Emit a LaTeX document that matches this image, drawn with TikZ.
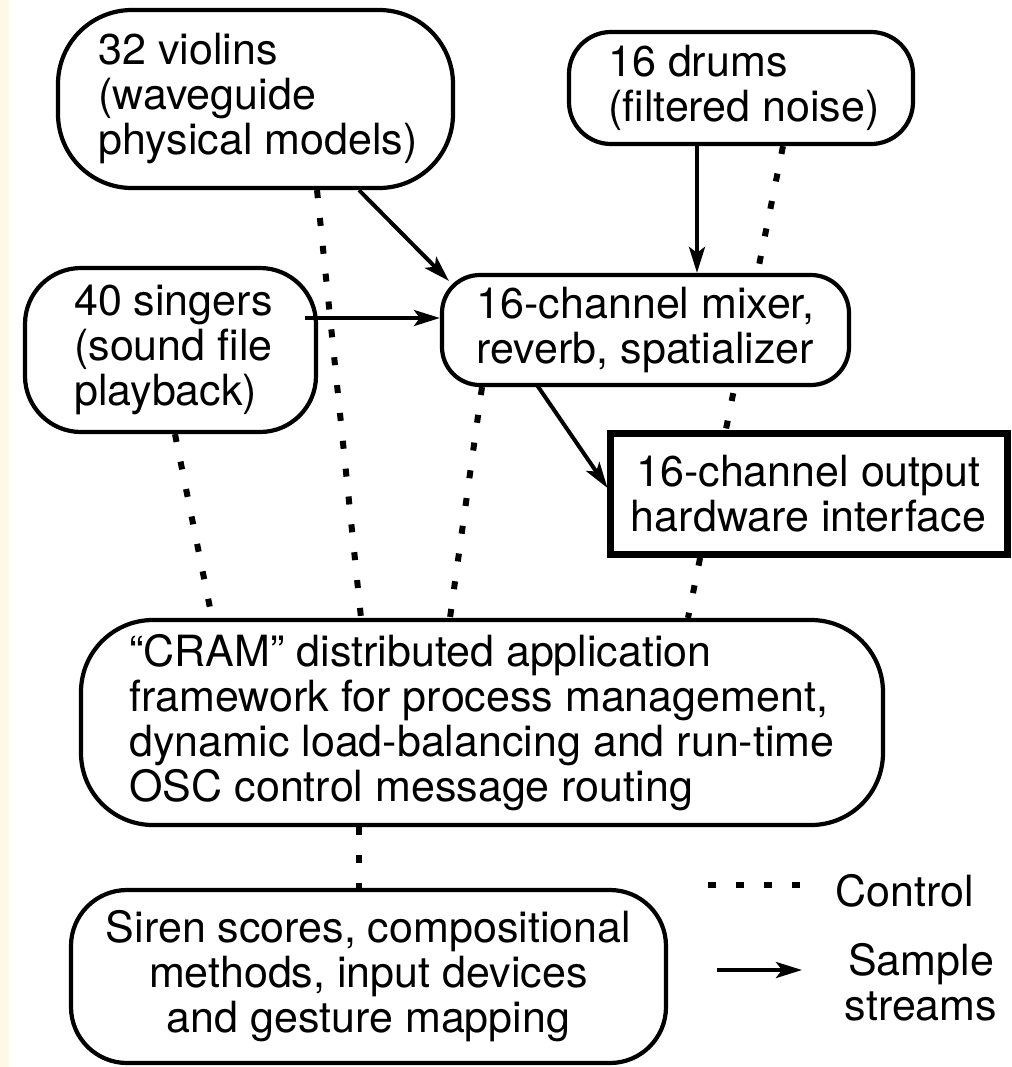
\documentclass[tikz,border=0pt]{standalone}
\usepackage{fontspec}
\setmainfont{TeX Gyre Heros}
\usetikzlibrary{arrows.meta,calc}
\pgfdeclarelayer{background}
\pgfsetlayers{background,main}
\definecolor{stripcol}{RGB}{255,248,230}
\begin{document}
\begin{tikzpicture}[x=0.5pt,y=-0.5pt,
  box/.style={draw,line width=2.1pt,fill=white,inner sep=0pt,font=\fontsize{21.5}{22.5}\selectfont},
  arr/.style={line width=2pt,-{Stealth[length=13pt,width=8pt,inset=3pt]}},
  ctl/.style={line width=3pt,dash pattern=on 4pt off 10pt},
  lbl/.style={font=\fontsize{21.5}{22.5}\selectfont,inner sep=0pt}]
\useasboundingbox (0,0) rectangle (1012,1067);
\begin{pgfonlayer}{background}
\fill[white] (0,0) rectangle (1012,1067);
\fill[stripcol] (0,0) rectangle (9,1067);
\end{pgfonlayer}

\node[box,rounded corners=37pt,minimum width=197.5pt,minimum height=89pt,align=left] (violins) at (255.5,99) {\hspace*{2.5pt}32 violins\\\hspace*{2.5pt}(waveguide\\\hspace*{2.5pt}physical models)};
\node[box,rounded corners=21pt,minimum width=172pt,minimum height=56pt,align=left] (drums) at (741,88) {\hspace*{3pt}16 drums\\\hspace*{3pt}(filtered noise)};
\node[box,rounded corners=28pt,minimum width=145.5pt,minimum height=82pt,align=left] (singers) at (170.5,350) {\hspace*{3pt}40 singers\\\hspace*{3pt}(sound file\\\hspace*{3pt}playback)};
\node[box,rounded corners=19pt,minimum width=203.5pt,minimum height=55pt,align=center] (mixer) at (645.5,330) {16-channel mixer,\\reverb, spatializer};
\node[box,line width=3.5pt,minimum width=198.5pt,minimum height=60.5pt,align=center] (output) at (808.5,493.5) {16-channel output\\hardware interface};
\node[box,rounded corners=36pt,minimum width=401pt,minimum height=102.5pt,align=left] (cram) at (482,722.5) {“CRAM” distributed application\\framework for process management,\\dynamic load-balancing and run-time\\OSC control message routing};
\node[box,rounded corners=28pt,minimum width=297.5pt,minimum height=86.5pt,align=center] (siren) at (368.5,976.5) {Siren scores, compositional\\methods, input devices\\and gesture mapping};

\node[lbl] (control) at (905,891) {Control};
\node[lbl,align=center] (sample) at (921,982) {Sample\\streams};

% sample streams
\draw[arr] ($(violins.south)+(103.5,0)$) -- ($(mixer.north west)+(9,8)$);
\coordinate (a1) at ($(singers.east)+(-13,-32)$);
\draw[arr] (a1) -- (a1 -| mixer.west);
\coordinate (d1) at ($(drums.south)+(-44,0)$);
\draw[arr] (d1) -- (d1 |- mixer.north);
\draw[arr] ($(mixer.south)+(-108.5,-2)$) -- ($(output.west)+(1,-5.5)$);

% control
\begin{pgfonlayer}{background}
\draw[ctl] ($(singers.south)+(4.5,0)$) -- ($(cram.north)+(-270,0)$);
\draw[ctl] ($(violins.south)+(61.5,0)$) -- ($(cram.north)+(-121,0)$);
\draw[ctl] ($(mixer.south)+(-163.5,0)$) -- ($(cram.north)+(-32,0)$);
\draw[ctl] ($(drums.south)+(42,0)$) -- ($(cram.north)+(206,0)$);
\coordinate (k1) at ($(cram.south)+(-123,0)$);
\draw[ctl] (k1) -- (k1 |- siren.north);
\end{pgfonlayer}

% legend
\coordinate (c1) at (708,885);
\coordinate (c2) at (800,885);
\draw[ctl] (c1) -- (c2);
\coordinate (s1) at (717,970);
\coordinate (s2) at (802,970);
\draw[arr] (s1) -- (s2);
\end{tikzpicture}
\end{document}
